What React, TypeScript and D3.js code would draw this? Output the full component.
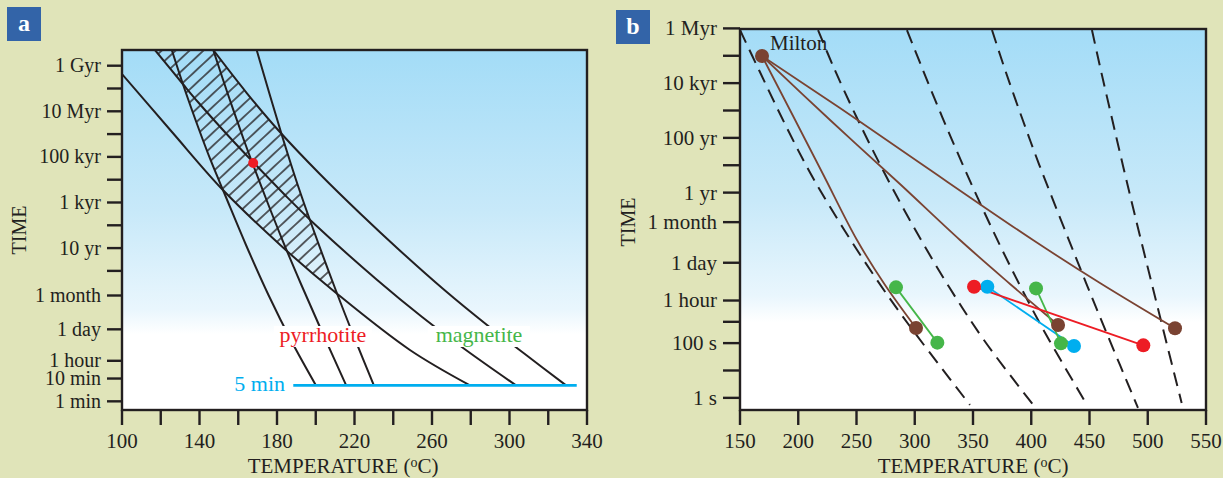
import React from 'react';
import * as d3 from 'd3';

// colours picked from the figure
const BG = '#e0e4b9';
const INK = '#231f20';
const BROWN = '#7a4332';
const RED = '#ed1c24';
const GREEN = '#45b649';
const CYAN = '#00aeef';
const TAG = '#3364a8';
const FONT = '"Liberation Serif", "Times New Roman", serif';

type Pt = [number, number]; // [temperature °C, time in seconds]

// ---------- panel a ----------
const tempTicksA = [100, 120, 140, 160, 180, 200, 220, 240, 260, 280, 300, 320, 340];
const timeLabelsA = ['1 Gyr', '', '10 Myr', '', '100 kyr', '', '1 kyr', '', '10 yr', '', '1 month', '1 day', '1 hour', '10 min', '1 min'];
const timeSecondsA = [3.156e16, 3.156e15, 3.156e14, 3.156e13, 3.156e12, 3.156e11, 3.156e10, 3.156e9, 3.156e8, 3.156e7, 2.63e6, 86400, 3600, 600, 60];

// magnetite (shallow) curves
const magA1: Pt[] = [[100, 1.36e16], [125.8, 3.9e13], [152.1, 1.11e11], [183.1, 3.35e8], [210.5, 3.39e6], [248.6, 1.07e4], [279.6, 300]];
const magA2: Pt[] = [[117.0, 1.54e17], [131.4, 4.97e15], [139.2, 8.07e14], [155.9, 2.13e13], [168.1, 1.7e12], [184.1, 6.73e10], [199.9, 3.25e9], [231.7, 1.26e7], [254.9, 3.0e5], [277.5, 1.07e4], [303.4, 300]];
const magA3: Pt[] = [[147.1, 1.54e17], [164.4, 2.0e15], [181.5, 3.9e13], [202.1, 5.61e11], [223.2, 9.86e9], [243.1, 2.61e8], [266.4, 4.58e6], [288.4, 1.34e5], [308.6, 6.46e3], [329.2, 300]];
// pyrrhotite (steep) curves
const pyrA1: Pt[] = [[125.7, 1.54e17], [131.6, 4.49e15], [138.9, 7.9e13], [145.7, 2.31e12], [153.2, 6.73e10], [164.0, 4.32e8], [175.6, 2.77e6], [187.7, 2.4e4], [200.1, 300]];
const pyrA2: Pt[] = [[147.1, 1.54e17], [154.8, 1.64e15], [162.9, 1.74e13], [167.3, 1.7e12], [174.6, 4.06e10], [182.8, 7.14e8], [192.6, 7.59e6], [203.5, 5.96e4], [215.7, 300]];
const pyrA3: Pt[] = [[169.5, 1.54e17], [176.0, 2.0e15], [182.8, 2.36e13], [190.7, 1.85e11], [198.1, 2.94e9], [210.3, 4.58e6], [220.4, 2.94e4], [230.0, 300]];

const estimateA: Pt = [167.7, 1.7e12];
const fiveMinSeconds = 300;
const fiveMinRange = [188.4, 334.7];

// ---------- panel b ----------
const tempTicksB = [150, 200, 250, 300, 350, 400, 450, 500, 550];
const timeLabelsB = ['1 Myr', '', '10 kyr', '', '100 yr', '', '1 yr', '1 month', '1 day', '1 hour', '', '100 s', '', '1 s'];
const timeSecondsB = [3.156e13, 3.156e12, 3.156e11, 3.156e10, 3.156e9, 3.156e8, 3.156e7, 2.63e6, 86400, 3600, 600, 100, 10, 1];

const dashedB: Pt[][] = [
  [[150, 2.75e13], [166.3, 9.5e11], [190.3, 7.2e9], [212.7, 1.08e8], [246.1, 4.94e5], [285.6, 1.62e3], [347.4, 0.55]],
  [[217.0, 2.75e13], [230.3, 1.22e12], [250.0, 1.82e10], [274.0, 1.64e8], [299.1, 1.75e6], [329.5, 1.12e4], [361.2, 101], [403.2, 0.46]],
  [[293.3, 2.75e13], [306.0, 1.22e12], [323.6, 1.82e10], [340.6, 3.8e8], [360.0, 5.68e6], [380.6, 8.45e4], [409.1, 388], [447.9, 0.55]],
  [[366.3, 2.75e13], [377.6, 9.5e11], [392.7, 1.42e10], [406.3, 3.8e8], [423.1, 5.68e6], [447.1, 1.57e4], [464.7, 234], [491.6, 0.43]],
  [[452.1, 2.75e13], [459.7, 9.5e11], [469.6, 1.42e10], [478.2, 3.8e8], [488.5, 5.68e6], [503.3, 1.57e4], [514.0, 234], [529.1, 0.65]],
];

const milton: Pt = [168.9, 3.09e12];
const brownCurves: Pt[][] = [
  [milton, [192.9, 3.29e10], [221.2, 1.51e8], [250.4, 5.85e5], [274.5, 1.33e4], [301.1, 357]],
  [milton, [227.3, 1.42e10], [287.3, 6.5e7], [338.8, 5.85e5], [381.8, 1.45e4], [423.0, 459]],
  [milton, [235.8, 3.89e10], [304.5, 3.8e8], [401.5, 5.85e5], [459.0, 1.57e4], [523.4, 348]],
];
const brownDots: Pt[] = [[301.1, 357], [423.0, 459], [523.4, 348]];
const greenPairs: Pt[][] = [[[283.9, 1.09e4], [319.4, 104]], [[404.1, 1.0e4], [425.5, 98]]];
const redPair: Pt[] = [[350.9, 1.15e4], [496.2, 83]];
const bluePair: Pt[] = [[362.3, 1.15e4], [436.7, 78]];

// frames
const A = { l: 122, r: 587, t: 50, b: 410 };
const B = { l: 740, r: 1206, t: 29, b: 410 };

const xA = d3.scaleLinear().domain([100, 340]).range([A.l, A.r]);
const yA = d3.scaleLog().domain([25, 1.54e17]).range([A.b, A.t]);
const xB = d3.scaleLinear().domain([150, 550]).range([B.l, B.r]);
const yB = d3.scaleLog().domain([0.36, 3.0e13]).range([B.b, B.t]);

const lineA = d3.line<Pt>().x(d => xA(d[0])).y(d => yA(d[1])).curve(d3.curveCatmullRom.alpha(0.5));
const lineB = d3.line<Pt>().x(d => xB(d[0])).y(d => yB(d[1])).curve(d3.curveCatmullRom.alpha(0.5));
const straightB = d3.line<Pt>().x(d => xB(d[0])).y(d => yB(d[1]));

// region on one side of a curve, closed far away
function side(pts: Pt[], farX: number) {
  const last = pts[pts.length - 1];
  return `${lineA(pts)}L${farX},${yA(last[1])}L${farX},0L${xA(pts[0][0])},0Z`;
}

function Frame({ f, grad }: { f: typeof A; grad: string }) {
  return <rect x={f.l} y={f.t} width={f.r - f.l} height={f.b - f.t} fill={`url(#${grad})`} />;
}

function YAxis({ f, labels, secs, y, len, size }: any) {
  return (
    <g>
      {secs.map((s: number, i: number) => (
        <g key={i}>
          <line x1={f.l - len} x2={f.l} y1={y(s)} y2={y(s)} stroke={INK} strokeWidth={2.4} />
          {labels[i] && (
            <text x={f.l - len - 6} y={y(s)} dy="0.33em" textAnchor="end" fontSize={size} fill={INK}>{labels[i]}</text>
          )}
        </g>
      ))}
    </g>
  );
}

function XAxis({ f, ticks, x, every }: any) {
  return (
    <g>
      {ticks.map((t: number, i: number) => (
        <g key={t}>
          <line x1={x(t)} x2={x(t)} y1={f.b} y2={f.b + 15} stroke={INK} strokeWidth={2.4} />
          {i % every === 0 && (
            <text x={x(t)} y={448} textAnchor="middle" fontSize={21} fill={INK}>{t}</text>
          )}
        </g>
      ))}
    </g>
  );
}

function TempTitle({ cx }: { cx: number }) {
  return (
    <text x={cx} y={473} textAnchor="middle" fontSize={21} fill={INK}>
      TEMPERATURE (<tspan fontSize={14} dy={-6}>o</tspan><tspan dy={6}>C)</tspan>
    </text>
  );
}

export default function App() {
  const magCurves = [magA1, magA2, magA3];
  const pyrCurves = [pyrA1, pyrA2, pyrA3];
  return (
    <svg width={1223} height={478} style={{ display: 'block', position: 'absolute', left: 0, top: 0 }} fontFamily={FONT}>
      <defs>
        <linearGradient id="skyA" x1="0" y1="0" x2="0" y2="1">
          <stop offset="0" stopColor="#a3dcf7" />
          <stop offset="0.45" stopColor="#c8e9f9" />
          <stop offset="0.72" stopColor="#e9f6fd" />
          <stop offset="0.79" stopColor="#ffffff" />
          <stop offset="1" stopColor="#ffffff" />
        </linearGradient>
        <linearGradient id="skyB" x1="0" y1="0" x2="0" y2="1">
          <stop offset="0" stopColor="#a3dcf7" />
          <stop offset="0.45" stopColor="#c8e9f9" />
          <stop offset="0.7" stopColor="#e9f6fd" />
          <stop offset="0.77" stopColor="#ffffff" />
          <stop offset="1" stopColor="#ffffff" />
        </linearGradient>
        <pattern id="hatch" width={9.5} height={9.5} patternUnits="userSpaceOnUse" patternTransform="rotate(-43)">
          <line x1={0} x2={9.5} y1={4.75} y2={4.75} stroke={INK} strokeWidth={1.4} />
        </pattern>
        <clipPath id="plotA"><rect x={A.l} y={A.t} width={A.r - A.l} height={A.b - A.t} /></clipPath>
        <clipPath id="plotB"><rect x={B.l} y={B.t} width={B.r - B.l} height={B.b - B.t} /></clipPath>
        <clipPath id="rMag1"><path d={side(magA1, 700)} /></clipPath>
        <clipPath id="lMag3"><path d={side(magA3, 0)} /></clipPath>
        <clipPath id="lPyr3"><path d={side(pyrA3, 0)} /></clipPath>
        <clipPath id="rMag2Pyr1">
          <path d={side(magA2, 700)} />
          <path d={side(pyrA1, 700)} />
        </clipPath>
      </defs>

      <rect width={1223} height={478} fill={BG} />

      {/* ---------- panel a ---------- */}
      <rect x={7} y={7} width={34} height={34} fill={TAG} />
      <text x={24} y={31} textAnchor="middle" fontSize={24} fontWeight="bold" fill="#fff">a</text>

      <Frame f={A} grad="skyA" />
      <g clipPath="url(#plotA)">
        <g clipPath="url(#rMag1)">
          <g clipPath="url(#lMag3)">
            <g clipPath="url(#lPyr3)">
              <g clipPath="url(#rMag2Pyr1)">
                <rect x={A.l} y={A.t} width={A.r - A.l} height={A.b - A.t} fill="url(#hatch)" />
              </g>
            </g>
          </g>
        </g>
        {[...magCurves, ...pyrCurves].map((c, i) => (
          <path key={i} d={lineA(c) as string} fill="none" stroke={INK} strokeWidth={2} />
        ))}
        <circle cx={xA(estimateA[0])} cy={yA(estimateA[1])} r={5} fill={RED} />
        <rect x={274} y={326} width={98} height={21} fill="#fff" />
        <rect x={428} y={326} width={102} height={21} fill="#fff" />
        <line x1={xA(fiveMinRange[0])} x2={xA(fiveMinRange[1])} y1={yA(fiveMinSeconds)} y2={yA(fiveMinSeconds)} stroke={CYAN} strokeWidth={2.6} />
      </g>
      <text x={323} y={342} textAnchor="middle" fontSize={22} fill={RED}>pyrrhotite</text>
      <text x={479} y={342} textAnchor="middle" fontSize={22} fill={GREEN}>magnetite</text>
      <text x={285} y={391} textAnchor="end" fontSize={22} fill={CYAN}>5 min</text>

      <rect x={A.l} y={A.t} width={A.r - A.l} height={A.b - A.t} fill="none" stroke={INK} strokeWidth={2.4} />
      <YAxis f={A} labels={timeLabelsA} secs={timeSecondsA} y={yA} len={15} size={20} />
      <XAxis f={A} ticks={tempTicksA} x={xA} every={2} />
      <TempTitle cx={343} />
      <text transform="translate(26,230) rotate(-90)" textAnchor="middle" fontSize={20} fill={INK}>TIME</text>

      {/* ---------- panel b ---------- */}
      <rect x={616} y={10} width={34} height={34} fill={TAG} />
      <text x={633} y={34} textAnchor="middle" fontSize={24} fontWeight="bold" fill="#fff">b</text>

      <Frame f={B} grad="skyB" />
      <g clipPath="url(#plotB)">
        {dashedB.map((c, i) => (
          <path key={i} d={lineB(c) as string} fill="none" stroke={INK} strokeWidth={2} strokeDasharray="14 8" />
        ))}
        {brownCurves.map((c, i) => (
          <path key={i} d={lineB(c) as string} fill="none" stroke={BROWN} strokeWidth={1.8} />
        ))}
        <path d={straightB(bluePair) as string} fill="none" stroke={CYAN} strokeWidth={1.8} />
        {greenPairs.map((p, i) => (
          <path key={i} d={straightB(p) as string} fill="none" stroke={GREEN} strokeWidth={1.8} />
        ))}
        <path d={straightB(redPair) as string} fill="none" stroke={RED} strokeWidth={1.8} />

        {[milton, ...brownDots].map((p, i) => (
          <circle key={`b${i}`} cx={xB(p[0])} cy={yB(p[1])} r={7} fill={BROWN} />
        ))}
        {bluePair.map((p, i) => (
          <circle key={`c${i}`} cx={xB(p[0])} cy={yB(p[1])} r={7} fill={CYAN} />
        ))}
        {greenPairs.flat().map((p, i) => (
          <circle key={`g${i}`} cx={xB(p[0])} cy={yB(p[1])} r={7} fill={GREEN} />
        ))}
        {redPair.map((p, i) => (
          <circle key={`r${i}`} cx={xB(p[0])} cy={yB(p[1])} r={7} fill={RED} />
        ))}
      </g>
      <text x={770} y={50} fontSize={21} fill={INK}>Milton</text>

      <rect x={B.l} y={B.t} width={B.r - B.l} height={B.b - B.t} fill="none" stroke={INK} strokeWidth={2.4} />
      <YAxis f={B} labels={timeLabelsB} secs={timeSecondsB} y={yB} len={17} size={21} />
      <XAxis f={B} ticks={tempTicksB} x={xB} every={1} />
      <TempTitle cx={973} />
      <text transform="translate(635,222) rotate(-90)" textAnchor="middle" fontSize={20} fill={INK}>TIME</text>
    </svg>
  );
}
